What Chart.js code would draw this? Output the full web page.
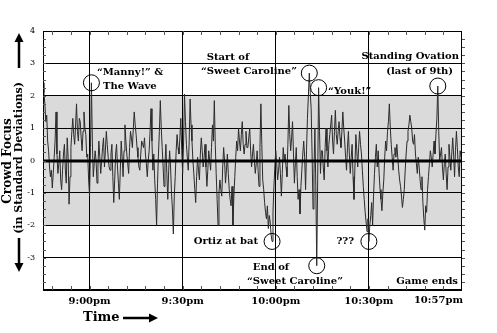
<!DOCTYPE html>
<html>
<head>
<meta charset="utf-8">
<script src="https://cdn.jsdelivr.net/npm/chart.js@4.4.1/dist/chart.umd.min.js"></script>
<style>
  html, body { margin: 0; padding: 0; background: #fff; }
</style>
</head>
<body>
<canvas id="focus" width="497" height="333"></canvas>
<script>
// Crowd focus over the game, sampled every 0.3 minutes starting at 8:45pm
const startLabel = "8:45pm";
const sampleMinutes = 0.3;
const focusValues = [
  // 8:45 - 8:51
  2.4, 2.1, 1.75, 1.2, 1.4, 0.6, 0.3, -0.2, -0.5, -0.3, -0.85, -0.4, 0.1, 0.6, 1.5, 0.2, -0.4, -0.1, 0.3, -0.6,
  -0.9, -0.3, 0.2, 0.5, -0.3, -0.7, 0.7, 0.1, -1.35, -0.5, 0.4, 0.9, 1.3, 0.8, 0.5, 1.1, 1.75, 0.9, 0.6, 1.3,
  // 8:57 - 9:03 ("Manny!" & the wave)
  1.2, 0.7, 0.3, 0.9, 1.5, 1.0, 0.8, 0.1, 0.2, -0.6, -1.1, 0.4, 2.4, 0.6, -0.5, -0.1, 0.3, 0.0, -0.7, -0.2,
  0.6, 0.1, -0.4, 0.0, 0.4, 0.7, -0.2, 0.3, 0.9, 0.5, 0.1, -0.2, -0.3, 0.2, 0.5, -0.5, -1.3, -0.6, 0.2, 0.5,
  -0.2, -0.7, -1.2, -0.3, 0.6, 0.1, -0.5, 0.3, 1.1, 0.6, 0.2, -0.1, -0.4, 0.4, 0.9, 0.7, 0.4, 1.0, 1.5, 1.1,
  0.8, 0.4, 0.1, -0.2, -0.3, 0.2, 0.6, 0.5, 0.4, 0.7, 0.2, -0.1, -0.5, 0.0, 0.3, 0.9, 1.6, 0.6, -0.3, 0.2,
  -0.6, -1.2, -2.0, -0.7, 0.2, 0.9, 1.85, 1.0, 0.4, -0.2, -0.8, -0.1, 0.5, -0.4, -1.2, -0.3, 0.3, -0.2, -1.0, -1.5,
  -2.27, -1.1, -0.5, 0.3, 0.8, 0.4, 0.2, 0.7, 1.3, 0.3, -0.4, 0.6, 2.05, 1.2, 0.5, 0.1, -0.3, 0.6, 1.9, 1.1,
  // 9:33 - 9:45
  0.6, 0.0, -0.4, -0.9, -1.3, -0.5, 0.1, -0.3, -0.6, 0.2, 0.7, 0.3, -0.2, 0.1, 0.5, -0.2, -0.8, -0.3, 0.3, 0.0,
  -0.3, 0.4, 1.1, 0.6, 1.85, 0.5, -0.4, -1.2, -2.0, -1.0, -0.6, -0.9, -1.1, -0.2, 0.4, 0.0, -0.7, -0.3, 0.2, -0.4,
  -0.9, -1.2, -1.4, -0.8, -2.0, -1.1, -0.5, 0.1, 0.6, 0.3, 1.0, 0.6, 0.3, 0.8, 1.2, 0.5, 0.2, 0.5, 0.9, 0.4,
  0.4, 0.7, 1.0, 0.3, -0.2, 0.2, 0.5, 0.0, -0.4, -0.1, 0.3, -0.3, -0.8, 0.4, 1.75, 0.5, -0.6, -0.9, -1.3, -1.6,
  // 9:57 - 10:03 (Ortiz at bat)
  -1.8, -1.4, -2.1, -1.7, -1.9, -2.3, -2.5, -1.6, -0.8, -0.2, 0.3, -0.1, -0.6, -0.3, 0.1, -0.4, -1.1, -0.4, 0.4, 0.0,
  0.2, -0.2, -0.5, 0.5, 1.7, 0.8, 0.3, 0.7, 1.2, 0.2, -0.7, -0.1, 0.4, -0.5, -1.2, -0.9, -1.65, -0.8, -0.3, 0.2,
  // 10:09 - 10:15 ("Sweet Caroline", "Youk!")
  0.6, 0.1, -0.9, 0.3, 1.3, 2.0, 2.7, 2.1, 1.6, 0.2, -1.5, -0.4, 1.0, -0.8, -3.25, -0.6, 2.25, 0.9, -0.4, 0.3,
  0.3, -0.2, -0.6, 0.4, 1.0, 0.3, -0.2, 0.5, 0.8, 1.1, 1.4, 0.6, 0.2, 0.9, 1.55, 0.8, 0.5, 0.9, 1.2, 0.7,
  0.4, 0.9, 1.5, 1.0, 0.6, 0.1, -0.3, 0.4, 0.9, 0.2, -0.4, 0.1, 0.5, -0.5, -1.2, -0.2, 0.8, 0.3, -0.2, 0.4,
  // 10:27 - 10:33
  0.9, 0.5, 0.2, -0.3, -0.8, -1.2, -1.6, -1.9, -2.2, -1.8, -2.5, -2.0, -1.7, -1.3, -2.0, -1.1, -0.4, 0.1, 0.5, -0.2,
  0.3, -0.4, -0.9, -1.2, -1.55, -1.0, -0.6, 0.1, 0.6, 0.3, 0.9, 1.2, 1.75, 1.0, 0.5, 0.1, -0.3, 0.2, 0.4, 0.1,
  0.5, 0.1, -0.3, -0.6, -0.8, -1.1, -1.45, -1.2, -0.9, -0.3, 0.2, 0.6, 0.9, 1.1, 1.4, 1.2, 1.0, 0.6, 0.5, 0.8,
  0.2, -0.1, -0.4, 0.1, -0.2, -0.6, -0.9, -0.5, -1.3, -1.8, -2.15, -1.4, -1.6, -0.9, -0.5, -0.1, 0.3, 0.1, -0.2, 0.2,
  // 10:51 - 11:00 (standing ovation)
  0.6, 0.2, 0.8, 1.3, 2.3, 0.9, 0.0, 0.2, 0.4, -0.2, -0.6, -0.1, 0.2, -0.4, -0.9, -0.2, 0.5, 0.1, -0.3, 0.2,
  0.7, 0.2, -0.5, 0.3, 0.9, 0.4, -0.2, -0.5, 0.3, 0.1
];

// time axis, minutes after 8:45pm
const xTickValues = [15, 45, 75, 105];
const xTickLabels = ["9:00pm", "9:30pm", "10:00pm", "10:30pm"];
const gameEndLabel = "10:57pm";
const yTickValues = [4, 3, 2, 1, 0, -1, -2, -3];

// moments that got circled: sample index of each spike
const momentIndex = {
  manny: 52, ortiz: 246, carolineStart: 286, carolineEnd: 294,
  youk: 296, unknown: 350, ovation: 424
};

const SERIF = '"DejaVu Serif", "Liberation Serif", serif';

const points = focusValues.map((v, i) => ({ x: i * sampleMinutes, y: v }));

function arrow(ctx, x1, y1, x2, y2) {
  const a = Math.atan2(y2 - y1, x2 - x1);
  const head = 9;
  ctx.beginPath();
  ctx.moveTo(x1, y1);
  ctx.lineTo(x2 - Math.cos(a) * head * 0.6, y2 - Math.sin(a) * head * 0.6);
  ctx.lineWidth = 2.5;
  ctx.stroke();
  ctx.beginPath();
  ctx.moveTo(x2, y2);
  ctx.lineTo(x2 - head * Math.cos(a) + 4.5 * Math.sin(a), y2 - head * Math.sin(a) - 4.5 * Math.cos(a));
  ctx.lineTo(x2 - head * Math.cos(a) - 4.5 * Math.sin(a), y2 - head * Math.sin(a) + 4.5 * Math.cos(a));
  ctx.closePath();
  ctx.fill();
}

const decorations = {
  id: "decorations",
  beforeDraw(chart) {
    const { ctx, chartArea: a, scales: { y } } = chart;
    ctx.save();
    ctx.fillStyle = "#fff";
    ctx.fillRect(0, 0, chart.width, chart.height);
    // +/- 2 SD band
    const top = y.getPixelForValue(2), bot = y.getPixelForValue(-2);
    ctx.fillStyle = "#dadada";
    ctx.fillRect(a.left, top, a.right - a.left, bot - top);
    ctx.restore();
  },
  afterDatasetsDraw(chart) {
    const { ctx, chartArea: a, scales: { x, y } } = chart;
    ctx.save();

    // heavy zero line
    const y0 = Math.round(y.getPixelForValue(0));
    ctx.fillStyle = "#000";
    ctx.fillRect(a.left, y0 - 1.5, a.right - a.left, 3);

    // frame
    ctx.strokeStyle = "#000";
    ctx.lineWidth = 1;
    ctx.strokeRect(a.left + 0.5, a.top + 0.5, a.right - a.left - 1, a.bottom - a.top - 1);

    // minor ticks every 6 minutes and every quarter SD
    ctx.strokeStyle = "#555";
    ctx.beginPath();
    for (let m = 3; m < 135; m += 6) {
      const px = Math.round(x.getPixelForValue(m)) + 0.5;
      ctx.moveTo(px, a.bottom); ctx.lineTo(px, a.bottom - 4);
      ctx.moveTo(px, a.top); ctx.lineTo(px, a.top + 4);
    }
    for (let v = -3.75; v < 4; v += 0.25) {
      const py = Math.round(y.getPixelForValue(v)) + 0.5;
      ctx.moveTo(a.left, py); ctx.lineTo(a.left + 3, py);
      ctx.moveTo(a.right, py); ctx.lineTo(a.right + 3, py);
    }
    ctx.stroke();

    // circled moments
    ctx.strokeStyle = "#000";
    ctx.lineWidth = 1;
    Object.values(momentIndex).forEach(i => {
      const p = points[i];
      ctx.beginPath();
      ctx.arc(x.getPixelForValue(p.x), y.getPixelForValue(p.y), 8, 0, Math.PI * 2);
      ctx.stroke();
    });

    // notes
    ctx.fillStyle = "#000";
    ctx.font = "bold 10px " + SERIF;
    ctx.textBaseline = "middle";
    const notes = [
      ["\u201cManny!\u201d &", 97, 72, "left"],
      ["The Wave", 103, 86, "left"],
      ["Start of", 228, 57, "center"],
      ["\u201cSweet Caroline\u201d", 249, 71, "center"],
      ["\u201cYouk!\u201d", 328, 91, "left"],
      ["Standing Ovation", 459, 56, "right"],
      ["(last of 9th)", 453, 71, "right"],
      ["Ortiz at bat", 258, 241, "right"],
      ["???", 354, 241, "right"],
      ["End of", 271, 267, "center"],
      ["\u201cSweet Caroline\u201d", 295, 281, "center"],
      ["Game ends", 458, 281, "right"]
    ];
    notes.forEach(([t, nx, ny, al]) => {
      ctx.textAlign = al;
      ctx.fillText(t, nx, ny);
    });

    // last time label sits against the right edge
    ctx.textAlign = "right";
    ctx.textBaseline = "top";
    ctx.fillText(gameEndLabel, a.right + 1, a.bottom + 5);

    // axis titles
    ctx.font = "bold 13px " + SERIF;
    ctx.textBaseline = "middle";
    ctx.textAlign = "left";
    ctx.fillText("Time", 83, 318);
    arrow(ctx, 123, 318, 158, 318);

    ctx.save();
    ctx.translate(8, 161);
    ctx.rotate(-Math.PI / 2);
    ctx.textAlign = "center";
    ctx.font = "bold 12px " + SERIF;
    ctx.fillText("Crowd Focus", 0, 0);
    ctx.restore();
    ctx.save();
    ctx.translate(19, 158);
    ctx.rotate(-Math.PI / 2);
    ctx.textAlign = "center";
    ctx.font = "bold 11px " + SERIF;
    ctx.fillText("(in Standard Deviations)", 0, 0);
    ctx.restore();
    arrow(ctx, 19, 68, 19, 33);
    arrow(ctx, 19, 238, 19, 272);

    ctx.restore();
  }
};

new Chart(document.getElementById("focus"), {
  type: "line",
  data: {
    datasets: [{
      label: "Crowd focus",
      data: points,
      borderColor: "#2b2b2b",
      borderWidth: 1,
      pointRadius: 0,
      tension: 0
    }]
  },
  options: {
    responsive: false,
    animation: false,
    layout: { padding: { left: 0, top: 31, right: 35, bottom: 0 } },
    plugins: { legend: { display: false }, tooltip: { enabled: false } },
    scales: {
      x: {
        type: "linear",
        min: 0,
        max: 135,
        afterBuildTicks: s => { s.ticks = xTickValues.map(v => ({ value: v })); },
        afterFit: s => { s.height = 43; },
        grid: { color: "#000", lineWidth: 1, drawTicks: false },
        border: { display: false },
        ticks: {
          autoSkip: false,
          maxRotation: 0,
          padding: 5,
          color: "#000",
          font: { family: SERIF, size: 10, weight: "bold" },
          callback: (v, i) => xTickLabels[i]
        }
      },
      y: {
        min: -4,
        max: 4,
        afterBuildTicks: s => { s.ticks = yTickValues.concat([-4]).map(v => ({ value: v })); },
        afterFit: s => { s.width = 43; },
        grid: { color: "#000", lineWidth: 1, drawTicks: false },
        border: { display: false },
        ticks: {
          padding: 8,
          color: "#000",
          font: { family: SERIF, size: 8 },
          callback: v => (yTickValues.includes(v) ? String(v) : "")
        }
      }
    }
  },
  plugins: [decorations]
});
</script>
</body>
</html>
